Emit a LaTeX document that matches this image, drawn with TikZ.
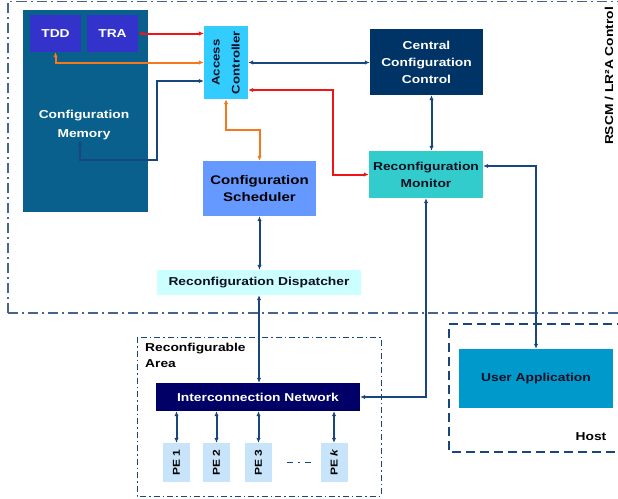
\documentclass[tikz,border=0pt]{standalone}
\usepackage{fontspec}
\setmainfont{Liberation Sans}[FakeStretch=1.2]
\usepackage{tikz}
\usetikzlibrary{arrows.meta,positioning}

\definecolor{membox}{RGB}{10,96,140}
\definecolor{tagbox}{RGB}{51,51,204}
\definecolor{accbox}{RGB}{51,204,255}
\definecolor{schedbox}{RGB}{102,153,255}
\definecolor{centralbox}{RGB}{0,51,102}
\definecolor{monbox}{RGB}{51,204,204}
\definecolor{dispbox}{RGB}{204,255,255}
\definecolor{netbox}{RGB}{0,0,102}
\definecolor{pebox}{RGB}{200,228,250}
\definecolor{appbox}{RGB}{0,153,204}
\definecolor{linkblue}{RGB}{25,70,125}
\definecolor{linkred}{RGB}{240,20,20}
\definecolor{linkorange}{RGB}{245,120,30}
\definecolor{framegray}{RGB}{70,100,140}
\definecolor{darktext}{RGB}{15,15,35}

\begin{document}
\begin{tikzpicture}[
  x=1pt, y=-1pt,
  txt/.style={font=\bfseries\fontsize{11.5}{17}\selectfont},
  box/.style={txt, draw=none, align=center, inner sep=0pt},
  link/.style={{Latex[length=5pt,width=4.5pt]}-{Latex[length=5pt,width=4.5pt]}, line width=2pt, draw=linkblue},
  rlink/.style={link, draw=linkred},
  olink/.style={link, draw=linkorange},
  outer/.style={draw=framegray, line width=1.3pt, dash pattern=on 10pt off 4pt on 2pt off 4pt},
  areaframe/.style={draw=linkblue, line width=1pt, dash pattern=on 6pt off 3pt on 1.5pt off 3pt},
  hostframe/.style={draw=linkblue, line width=1.1pt, dash pattern=on 9pt off 5pt},
  pe/.style={box, fill=pebox, minimum width=39pt, minimum height=27pt, font=\bfseries\fontsize{10}{11}\selectfont, rotate=90}
]
\clip (0,0) rectangle (618,498);

% frames
\draw[outer] (8,313) -- (8,1.5) -- (640,1.5);
\draw[outer] (8,313) -- (640,313);
\draw[areaframe] (137,337) rectangle (381,496);
\draw[hostframe] (640,324) -- (449,324) -- (449,452) -- (640,452);

\node[txt, rotate=90] (ctrlname) at (609,76) {RSCM / LR²A Control};
\node[txt, anchor=north west, align=left, inner sep=0pt, font=\bfseries\fontsize{11.5}{16}\selectfont] (arealabel) at (145,343) {Reconfigurable\\Area};
\node[txt] (hostlabel) at (591,437) {Host};

% control blocks
\node[box, fill=membox, minimum width=125pt, minimum height=202pt] (mem) at (85.5,111) {};
\node[box, text=white, font=\bfseries\fontsize{11.5}{19}\selectfont] (memtext) at (84,125) {Configuration\\Memory};
\node[box, fill=tagbox, text=white, minimum width=51pt, minimum height=37pt] (tdd) at (55.5,33.5) {TDD};
\node[box, fill=tagbox, text=white, minimum width=51pt, minimum height=37pt] (tra) at (112.5,33.5) {TRA};
\node[box, fill=accbox, text=darktext, minimum width=44pt, minimum height=73pt] (acc) at (226,62.5) {};
\node[txt, rotate=90, align=center, text=darktext, font=\bfseries\fontsize{11}{20}\selectfont] (acctext) at (acc) {Access\\Controller};
\node[box, fill=schedbox, text=black, minimum width=113pt, minimum height=55pt, font=\bfseries\fontsize{12.5}{17.5}\selectfont] (sched) at (259.5,188.5) {Configuration\\Scheduler};
\node[box, fill=centralbox, text=white, minimum width=113pt, minimum height=66pt] (ccc) at (426.5,62) {Central\\Configuration\\Control};
\node[box, fill=monbox, text=darktext, minimum width=114pt, minimum height=47pt] (mon) at (426,174.5) {Reconfiguration\\Monitor};
\node[box, fill=dispbox, text=darktext, minimum width=204pt, minimum height=25pt] (disp) at (259,282.5) {Reconfiguration Dispatcher};

% reconfigurable area
\node[box, fill=netbox, text=white, minimum width=204pt, minimum height=28pt] (net) at (258,397) {Interconnection Network};
\node[pe] (pe1) at (176.5,462.5) {PE 1};
\node[pe] (pe2) at (216.5,462.5) {PE 2};
\node[pe] (pe3) at (258.5,462.5) {PE 3};
\node[pe] (pek) at (334,462.5) {PE \textit{k}};
\draw[linkblue, line width=1.8pt, dash pattern=on 6pt off 5pt on 2pt off 5pt] ([xshift=15pt]pe3.south) -- ([xshift=-8pt]pek.north);

% host
\node[box, fill=appbox, text=darktext, minimum width=154pt, minimum height=59pt] (app) at (536,378.5) {User Application};

% connectors
\coordinate (memjog) at (157,160);
\draw[rlink] (tra.east) -- (tra -| acc.west);
\draw[olink] (acc.west) -| (tdd.south);
\draw[link] ([xshift=-4pt]memtext.south) |- (memjog) |- ([yshift=-18.5pt]acc.west);
\draw[olink] (acc.south) -- ++(0,31) -| (sched.north);
\draw[link] (acc.east) -- (acc.east -| ccc.west);
\draw[rlink] ([yshift=-27.5pt]acc.east) -- ++(85,0) |- (mon.west);
\draw[link] ([xshift=5pt]ccc.south) -- ([xshift=5pt]ccc.south |- mon.north);
\draw[link] ([yshift=8.5pt]mon.east) -| (app.north);
\draw[link] (mon.south) |- (net.east);
\draw[link] (sched.south) -- (sched.south |- disp.north);
\draw[link] (disp.south) -- (disp.south |- net.north);
\foreach \p in {pe1,pe2,pe3,pek}
  \draw[link] (net.south -| \p.east) -- (\p.east);
\end{tikzpicture}
\end{document}
